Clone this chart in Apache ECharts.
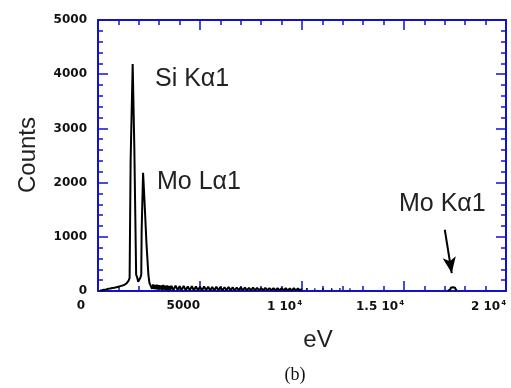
<!DOCTYPE html>
<html>
<head>
<meta charset="utf-8">
<script src="https://cdn.jsdelivr.net/npm/echarts@6/dist/echarts.min.js"></script>
<style>
  html, body { margin: 0; padding: 0; background: #fff; }
  #chart { width: 511px; height: 388px; }
</style>
</head>
<body>
<div id="chart"></div>
<script>
// energy (eV) and counts, null = gap in the trace
var energy = [
  100, 200, 300, 400, 500, 600, 700, 800, 900, 1000,
  1100, 1200, 1300, 1400, 1450, 1500, 1550, 1580, 1600, 1650,
  1700, 1740, 1780, 1830, 1870, 1920, 1970, 2020, 2080, 2120,
  2140, 2190, 2210, 2240, 2270, 2330, 2380, 2440, 2470, 2520,
  2600, 2650, 2700, 2750, 2800, 2850, 2900, 2950, 3000, 3050,
  3100, 3150, 3200, 3250, 3300, 3350, 3400, 3450, 3500, 3550,
  3600, 3700, 3800, 3900, 4000, 4100, 4200, 4300, 4400, 4500,
  4600, 4700, 4800, 4900, 5000, 5100, 5200, 5300, 5400, 5500,
  5600, 5700, 5800, 5900, 6000, 6100, 6200, 6300, 6400, 6500,
  6600, 6700, 6800, 6900, 7000, 7100, 7200, 7300, 7400, 7500,
  7600, 7700, 7800, 7900, 8000, 8100, 8200, 8300, 8400, 8500,
  8600, 8700, 8800, 8900, 9000, 9100, 9200, 9300, 9400, 9500,
  9600, 9700, 9800, 9900, 10000, 10050,
  10200, 10280, 10330, 10600, 10660, 10710, 11000, 11060, 11110,
  11420, 11490, 11540, 11830, 11890, 11940, 12320, 12380, 12430,
  17100, 17150, 17200, 17250, 17300, 17350, 17400, 17450, 17500, 17550, 17600
];
var counts = [
  10, 15, 25, 30, 40, 45, 55, 60, 70, 80,
  90, 100, 115, 140, 160, 190, 240, 260, 2420, 2420,
  4190, 4190, 2660, 2660, 300, 250, 170, 160, 250, 300,
  1125, 1125, 2180, 2180, 1740, 1740, 850, 850, 300, 150,
  130, 40, 120, 35, 110, 30, 115, 25, 105, 30,
  100, 20, 110, 25, 95, 20, 100, 15, 90, 20,
  95, 15, 100, 20, 90, 15, 95, 10, 85, 15,
  90, 10, 85, 15, 80, 10, 85, 15, 80, 10,
  75, 10, 80, 15, 75, 10, 70, 15, 75, 10,
  70, 10, 65, 15, 70, 10, 65, 10, 60, 10,
  65, 10, 60, 10, 55, 10, 60, 10, 55, 10,
  55, 10, 50, 10, 55, 10, 50, 10, 45, 10,
  50, 10, 45, 10, 40, null,
  35, 35, null, 30, 30, null, 35, 35, null,
  30, 30, null, 35, 35, null, 30, 30, null,
  null, 15, 45, 20, 60, 30, 70, 35, 60, 20, 15
];

var xTicks = [0, 5000, 10000, 15000, 20000];
var xTickLabels = ['0', '5000', '1 10', '1.5 10', '2 10'];
var yTicks = [0, 1000, 2000, 3000, 4000, 5000];

// arrow pointing at the Mo K-alpha bump (eV, counts)
var arrowFrom = [17000, 1130];
var arrowTo = [17340, 330];

var axisBlue = '#1212cc';

var spectrum = energy.map(function (e, i) {
  return [e, counts[i] == null ? '-' : counts[i]];
});

var myChart = echarts.init(document.getElementById('chart'));

var frameAxis = function (pos, showLabel) {
  return {
    type: 'value',
    position: pos,
    axisLine: { show: true, onZero: false, lineStyle: { color: axisBlue, width: 2 } },
    axisTick: { show: true, inside: true, length: 10, lineStyle: { color: axisBlue, width: 1.5 } },
    minorTick: { show: true, splitNumber: 5, length: 5, lineStyle: { color: axisBlue, width: 1.5 } },
    splitLine: { show: false },
    axisLabel: { show: showLabel }
  };
};

var labelFont = { fontFamily: 'DejaVu Sans', fontWeight: 'bold', fontSize: 12, color: '#111' };

var xBottom = frameAxis('bottom', true);
xBottom.min = xTicks[0];
xBottom.max = xTicks[xTicks.length - 1];
xBottom.interval = xTicks[1] - xTicks[0];
xBottom.axisLabel = {
  show: true,
  margin: 9,
  align: 'right',
  color: '#111',
  fontFamily: 'DejaVu Sans',
  fontWeight: 'bold',
  fontSize: 12,
  formatter: function (v) {
    var t = xTickLabels[xTicks.indexOf(v)];
    if (v === 0) return '{z|' + t + '}';
    if (v >= 10000) return '{n|' + t + '}{s|4}';
    return '{n|' + t + '}';
  },
  rich: {
    n: labelFont,
    z: Object.assign({ padding: [0, 13, 0, 0] }, labelFont),
    s: { fontFamily: 'DejaVu Sans', fontWeight: 'bold', fontSize: 7, color: '#111', verticalAlign: 'top', padding: [0, 0, 6, 1] }
  }
};
var xTop = frameAxis('top', false);
xTop.min = xBottom.min;
xTop.max = xBottom.max;
xTop.interval = xBottom.interval;

var yLeft = frameAxis('left', true);
yLeft.min = yTicks[0];
yLeft.max = yTicks[yTicks.length - 1];
yLeft.interval = yTicks[1] - yTicks[0];
yLeft.axisLabel = {
  show: true,
  margin: 11,
  color: '#111',
  fontFamily: 'DejaVu Sans',
  fontWeight: 'bold',
  fontSize: 12,
  formatter: function (v) { return String(v); }
};
var yRight = frameAxis('right', false);
yRight.min = yLeft.min;
yRight.max = yLeft.max;
yRight.interval = yLeft.interval;

var textFont = 'Liberation Sans, Arial, sans-serif';

var option = {
  animation: false,
  backgroundColor: '#fff',
  grid: { left: 98, right: 5, top: 20, bottom: 97 },
  xAxis: [xBottom, xTop],
  yAxis: [yLeft, yRight],
  series: [
    {
      type: 'line',
      data: spectrum,
      xAxisIndex: 0,
      yAxisIndex: 0,
      symbol: 'none',
      connectNulls: false,
      lineStyle: { color: '#000', width: 2 },
      z: 3,
      markLine: {
        silent: true,
        symbol: ['none', 'arrow'],
        symbolSize: [10, 16],
        label: { show: false },
        lineStyle: { color: '#000', width: 2, type: 'solid' },
        data: [[{ coord: arrowFrom }, { coord: arrowTo }]]
      }
    }
  ],
  graphic: [
    { type: 'text', left: 155, top: 67, style: { text: 'Si Kα1', font: '25px ' + textFont, fill: '#222' } },
    { type: 'text', left: 157, top: 170, style: { text: 'Mo Lα1', font: '25px ' + textFont, fill: '#222' } },
    { type: 'text', left: 399, top: 192, style: { text: 'Mo Kα1', font: '25px ' + textFont, fill: '#222' } },
    { type: 'text', x: 28, y: 155, rotation: Math.PI / 2,
      style: { text: 'Counts', x: 0, y: 0, align: 'center', verticalAlign: 'middle', font: '24px ' + textFont, fill: '#222' } },
    { type: 'text', x: 318, y: 340,
      style: { text: 'eV', x: 0, y: 0, align: 'center', verticalAlign: 'middle', font: '24px ' + textFont, fill: '#222' } },
    { type: 'text', x: 295, y: 375,
      style: { text: '(b)', x: 0, y: 0, align: 'center', verticalAlign: 'middle', font: '18px Liberation Serif, serif', fill: '#111' } }
  ]
};

myChart.setOption(option);
</script>
</body>
</html>
